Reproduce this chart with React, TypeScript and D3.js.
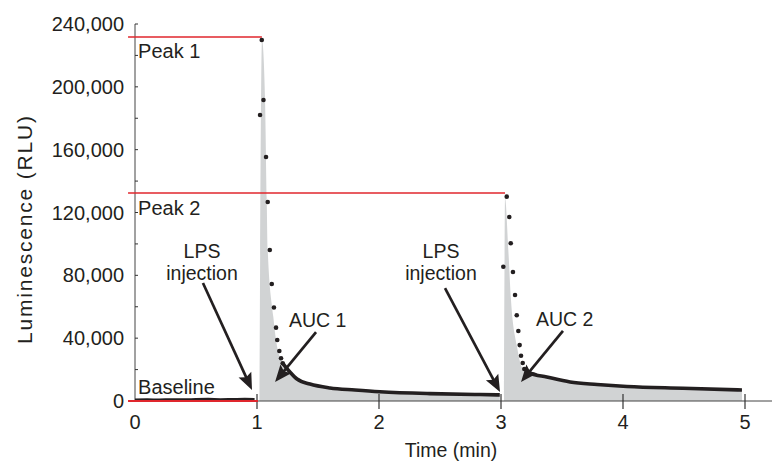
import React from "react";
import * as d3 from "d3";

// ---- data (time in min, luminescence in RLU) ----
const baseTimes = [0.0, 0.1, 0.2, 0.3, 0.4, 0.5, 0.6, 0.7, 0.8, 0.9, 0.98];
const baseValues = [500, 600, 500, 700, 600, 800, 900, 700, 800, 900, 800];

const peak1Times = [1.025, 1.039, 1.053, 1.074, 1.088, 1.105, 1.121, 1.139, 1.156, 1.166, 1.183, 1.197, 1.211];
const peak1Values = [182100, 229800, 191600, 155300, 126700, 96100, 74500, 59500, 46700, 38800, 31800, 27200, 24000];
const tail1Times = [1.211, 1.27, 1.328, 1.434, 1.598, 1.803, 2.008, 2.418, 2.828, 2.99];
const tail1Values = [24000, 18500, 14000, 10800, 8300, 7000, 5900, 4700, 4100, 3900];
const auc1Times = [1.02, 1.041, 1.066, 1.08, 1.088, 1.134, 1.156, 1.189, 1.211];
const auc1Values = [0, 229800, 191600, 128000, 96100, 53500, 38800, 27400, 24000];

const peak2Times = [3.019, 3.047, 3.068, 3.08, 3.098, 3.115, 3.129, 3.142, 3.153, 3.164, 3.178, 3.191];
const peak2Values = [85500, 130100, 117100, 100400, 82100, 67500, 54600, 44600, 35600, 28800, 24200, 20400];
const tail2Times = [3.191, 3.238, 3.375, 3.566, 3.787, 4.033, 4.492, 4.975];
const tail2Values = [20400, 17800, 15300, 12100, 10500, 9200, 8100, 7000];
const auc2Times = [3.025, 3.033, 3.06, 3.082, 3.129, 3.183];
const auc2Values = [0, 129200, 96100, 64300, 35600, 19700];

const peak1Level = 231700;
const peak2Level = 132400;

const xTicks = [1, 2, 3, 4, 5];
const xTickLabels = ["0", "1", "2", "3", "4", "5"];
const yTicks = [0, 40000, 80000, 120000, 160000, 200000, 240000];
const yMinorTicks = [20000, 60000, 100000, 140000, 180000, 220000];

// annotations: [x, y] in data units
const lpsArrows = [
  { from: [0.557, 75100], to: [0.959, 7000], textX: 0.549 },
  { from: [2.541, 71900], to: [2.992, 5700], textX: 2.508 },
];
const aucArrows = [
  { label: "AUC 1", from: [1.484, 43900], to: [1.148, 12100], textX: 1.262, textY: 47100 },
  { label: "AUC 2", from: [3.508, 44600], to: [3.164, 12100], textX: 3.287, textY: 47700 },
];

const W = 773;
const H = 462;
const FONT = "'Liberation Sans', Arial, Helvetica, sans-serif";
const INK = "#231f20";
const RED = "#e0262d";
const GRAY = "#d1d3d4";

const x = d3.scaleLinear().domain([0, 5]).range([135, 745]);
const y = d3.scaleLinear().domain([0, 240000]).range([401, 24]);

const zip = (t: number[], v: number[]) => t.map((tt, i) => [tt, v[i]] as [number, number]);

function Arrow({ from, to }: { from: number[]; to: number[] }) {
  const x1 = x(from[0]), y1 = y(from[1]), x2 = x(to[0]), y2 = y(to[1]);
  const ang = Math.atan2(y2 - y1, x2 - x1);
  const len = 17, half = 7;
  const bx = x2 - len * Math.cos(ang), by = y2 - len * Math.sin(ang);
  const px = -Math.sin(ang), py = Math.cos(ang);
  const head = `M${x2},${y2}L${bx + half * px},${by + half * py}L${bx + 3 * Math.cos(ang)},${by + 3 * Math.sin(ang)}L${bx - half * px},${by - half * py}Z`;
  return (
    <g>
      <line x1={x1} y1={y1} x2={bx + 4 * Math.cos(ang)} y2={by + 4 * Math.sin(ang)} stroke={INK} strokeWidth={2.7} />
      <path d={head} fill={INK} />
    </g>
  );
}

export default function App() {
  const area = d3
    .area<[number, number]>()
    .x((d) => x(d[0]))
    .y0(y(0))
    .y1((d) => y(d[1]))
    .curve(d3.curveMonotoneX);
  const line = d3
    .line<[number, number]>()
    .x((d) => x(d[0]))
    .y((d) => y(d[1]))
    .curve(d3.curveMonotoneX);

  const auc1 = [...zip(auc1Times, auc1Values), ...zip(tail1Times, tail1Values).slice(1)];
  const auc2 = [...zip(auc2Times, auc2Values), ...zip(tail2Times, tail2Values).slice(1)];
  const dots = [...zip(peak1Times, peak1Values), ...zip(peak2Times, peak2Values)];

  return (
    <svg width={W} height={H} style={{ position: "absolute", left: 0, top: 0, background: "#fff" }} fontFamily={FONT}>
      {/* AUC areas */}
      <path d={area(auc1) || ""} fill={GRAY} />
      <path d={area(auc2) || ""} fill={GRAY} />

      {/* axes */}
      <line x1={x(0)} y1={y(0)} x2={772} y2={y(0)} stroke="#444" strokeWidth={1} />
      <line x1={x(0)} y1={y(0)} x2={x(0)} y2={y(240000)} stroke="#444" strokeWidth={1} />
      {xTicks.map((t) => (
        <line key={"xt" + t} x1={x(t)} x2={x(t)} y1={y(0) - 7} y2={y(0) + 8} stroke="#333" strokeWidth={1.2} />
      ))}
      {xTickLabels.map((l, i) => (
        <text key={"xl" + i} x={x(i)} y={429} textAnchor="middle" fontSize={20} fill={INK}>
          {l}
        </text>
      ))}
      {[...yTicks, ...yMinorTicks].map((v) => (
        <line key={"yt" + v} x1={x(0)} x2={x(0) + 3} y1={y(v)} y2={y(v)} stroke="#333" strokeWidth={1} />
      ))}
      {yTicks.map((v) => (
        <text key={"yl" + v} x={124} y={y(v) + 7} textAnchor="end" fontSize={20} fill={INK}>
          {d3.format(",")(v)}
        </text>
      ))}
      <text x={451} y={457} textAnchor="middle" fontSize={19.5} fill={INK}>
        Time (min)
      </text>
      <text
        transform={`translate(32,230) rotate(-90)`}
        textAnchor="middle"
        fontSize={21}
        textLength={228}
        lengthAdjust="spacing"
        fill={INK}
      >
        Luminescence (RLU)
      </text>

      {/* traces */}
      <path d={line(zip(baseTimes, baseValues)) || ""} fill="none" stroke={INK} strokeWidth={3.5} />
      <path d={line(zip(tail1Times, tail1Values)) || ""} fill="none" stroke={INK} strokeWidth={3.6} />
      <path d={line(zip(tail2Times, tail2Values)) || ""} fill="none" stroke={INK} strokeWidth={3.6} />
      {dots.map((d, i) => (
        <circle key={"d" + i} cx={x(d[0])} cy={y(d[1])} r={2.3} fill={INK} />
      ))}

      {/* red reference lines */}
      <line x1={x(-0.057)} x2={x(1.04)} y1={y(peak1Level)} y2={y(peak1Level)} stroke={RED} strokeWidth={1.6} />
      <line x1={x(-0.057)} x2={x(3.033)} y1={y(peak2Level)} y2={y(peak2Level)} stroke={RED} strokeWidth={1.6} />
      <line x1={x(-0.057)} x2={x(1.008)} y1={y(0)} y2={y(0)} stroke={RED} strokeWidth={1.8} />

      <text x={x(0.025)} y={y(218200)} fontSize={20} fill={INK}>Peak 1</text>
      <text x={x(0.025)} y={y(118400)} fontSize={20} fill={INK}>Peak 2</text>
      <text x={x(0.025)} y={y(4300)} fontSize={20} fill={INK}>Baseline</text>

      {lpsArrows.map((a, i) => (
        <g key={"lps" + i}>
          <text x={x(a.textX)} y={y(91000)} textAnchor="middle" fontSize={19.5} fill={INK}>LPS</text>
          <text x={x(a.textX)} y={y(77000)} textAnchor="middle" fontSize={19.5} fill={INK}>injection</text>
          <Arrow from={a.from} to={a.to} />
        </g>
      ))}
      {aucArrows.map((a, i) => (
        <g key={"auc" + i}>
          <text x={x(a.textX)} y={y(a.textY)} fontSize={19.5} fill={INK}>{a.label}</text>
          <Arrow from={a.from} to={a.to} />
        </g>
      ))}
    </svg>
  );
}
